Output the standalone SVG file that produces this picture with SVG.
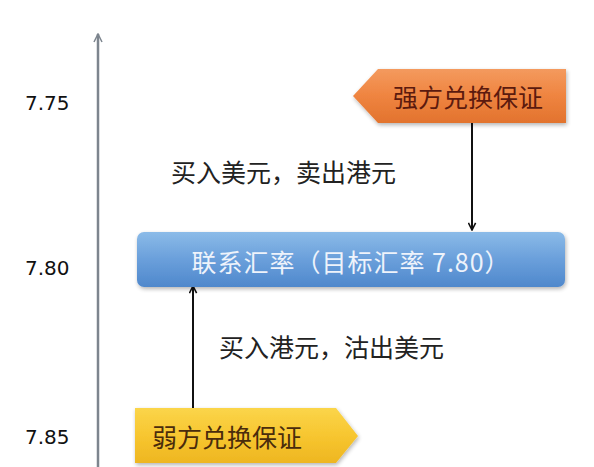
<svg xmlns="http://www.w3.org/2000/svg" width="594" height="467" viewBox="0 0 594 467">
<style>
.num{font-family:"DejaVu Sans",Verdana,sans-serif;font-size:20px;fill:#111}
.lbl{font-family:"Noto Sans CJK SC","Noto Sans",sans-serif;font-size:25px;fill:#222}
.node{font-family:"Noto Sans CJK SC","Noto Sans",sans-serif;font-size:25px;text-anchor:middle;dominant-baseline:central}
.conn{stroke:#111;stroke-width:2;fill:none}
</style>
<defs>
<linearGradient id="gO" x1="0" y1="0" x2="0" y2="1">
<stop offset="0" stop-color="#f49a5e"/><stop offset="0.5" stop-color="#ef8440"/><stop offset="1" stop-color="#e2732e"/>
</linearGradient>
<linearGradient id="gY" x1="0" y1="0" x2="0" y2="1">
<stop offset="0" stop-color="#fbd54a"/><stop offset="0.5" stop-color="#f7c630"/><stop offset="1" stop-color="#eeb621"/>
</linearGradient>
<linearGradient id="gB" x1="0" y1="0" x2="0" y2="1">
<stop offset="0" stop-color="#8bbbe8"/><stop offset="0.5" stop-color="#6a9fdb"/><stop offset="1" stop-color="#4f88cc"/>
</linearGradient>
<marker id="ah" viewBox="0 0 10 10" refX="9" refY="5" markerWidth="9" markerHeight="9" orient="auto" markerUnits="userSpaceOnUse">
<path d="M1,1 L9,5 L1,9" fill="none" stroke="#111" stroke-width="1.8"/>
</marker>
<marker id="ax" viewBox="0 0 10 10" refX="9" refY="5" markerWidth="10" markerHeight="10" orient="auto" markerUnits="userSpaceOnUse">
<path d="M1,1 L9,5 L1,9" fill="none" stroke="#7d858e" stroke-width="1.5"/>
</marker>
<filter id="sh" x="-10%" y="-20%" width="120%" height="150%">
<feGaussianBlur in="SourceAlpha" stdDeviation="2"/><feOffset dx="1" dy="2"/>
<feComponentTransfer><feFuncA type="linear" slope="0.3"/></feComponentTransfer>
<feMerge><feMergeNode/><feMergeNode in="SourceGraphic"/></feMerge>
</filter>
</defs>
<rect width="594" height="467" fill="#ffffff"/>

<g id="axis">
<line x1="98" y1="467" x2="98" y2="34" stroke="#7d858e" stroke-width="2.5" marker-end="url(#ax)"/>
<text class="num" x="25" y="110">7.75</text>
<text class="num" x="25" y="275">7.80</text>
<text class="num" x="25" y="444">7.85</text>
</g>

<g id="connectors">
<line class="conn" x1="472" y1="123" x2="472" y2="230" marker-end="url(#ah)"/>
<line class="conn" x1="193" y1="408" x2="193" y2="286" marker-end="url(#ah)"/>
</g>

<g id="strong">
<path d="M353,96 L378,69 L566,69 L566,123 L378,123 Z" fill="url(#gO)" filter="url(#sh)"/>
<text class="node" x="468" y="96" fill="#5c1a0e">强方兑换保证</text>
</g>

<g id="label-top">
<text class="lbl" x="171" y="182">买入美元，卖出港元</text>
</g>

<g id="peg">
<rect x="137" y="232" width="428" height="55" rx="7" fill="url(#gB)" filter="url(#sh)"/>
<text class="node" x="351" y="261" fill="#eef3fb" letter-spacing="1">联系汇率（目标汇率 7.80）</text>
</g>

<g id="label-bottom">
<text class="lbl" x="219" y="357">买入港元，沽出美元</text>
</g>

<g id="weak">
<path d="M135,408 L336,408 L358,436 L336,463 L135,463 Z" fill="url(#gY)" filter="url(#sh)"/>
<text class="node" x="227" y="436" fill="#4a2c0c">弱方兑换保证</text>
</g>
</svg>
